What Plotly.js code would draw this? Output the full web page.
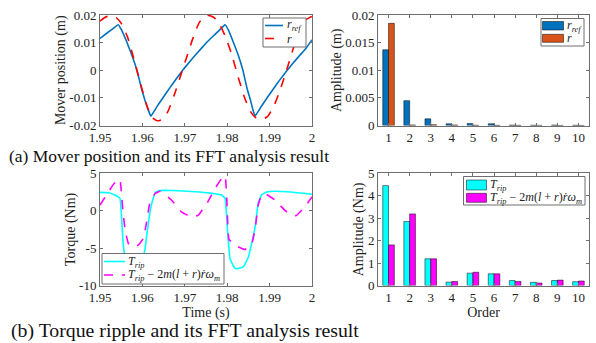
<!DOCTYPE html>
<html><head><meta charset="utf-8">
<script src="https://cdn.plot.ly/plotly-3.0.1.min.js"></script>
<style>html,body{margin:0;padding:0;background:#fff}</style>
</head><body><div id="chart" style="width:596px;height:343px"></div>
<script>
// (a) mover position, time series
const tRef = [1.950,1.9515,1.953,1.9543,1.9551,1.9563,1.9575,1.9587,1.9598,1.9606,1.9614,1.9620,1.9635,1.965,1.9665,1.968,1.9695,1.971,1.9725,1.974,1.9755,1.977,1.9785,1.9795,1.9803,1.9814,1.9826,1.9837,1.9847,1.9855,1.9861,1.9866,1.988,1.9895,1.991,1.9925,1.994,1.9955,1.997,1.9985,2.000];
const rRef = [0.0115,0.0133,0.0150,0.0165,0.0145,0.0103,0.0055,0.0000,-0.0067,-0.0109,-0.0145,-0.0166,-0.0130,-0.0096,-0.0063,-0.0031,0.0000,0.0028,0.0055,0.0081,0.0106,0.0128,0.0150,0.0165,0.0145,0.0103,0.0055,0.0000,-0.0067,-0.0109,-0.0145,-0.0166,-0.0132,-0.0098,-0.0065,-0.0033,-0.0003,0.0025,0.0052,0.0078,0.0110];
const tR = [1.950,1.9512,1.9524,1.9537,1.955,1.9565,1.958,1.9595,1.961,1.9622,1.9635,1.9648,1.966,1.9675,1.969,1.9705,1.972,1.9735,1.9752,1.9768,1.978,1.9795,1.981,1.9825,1.984,1.9855,1.9868,1.9881,1.9895,1.991,1.9925,1.994,1.9955,1.997,1.9985,2.000];
const rR = [0.0178,0.0192,0.0197,0.0192,0.0170,0.0120,0.0040,-0.0045,-0.0125,-0.0170,-0.0183,-0.0177,-0.0150,-0.0090,-0.0020,0.0050,0.0120,0.0175,0.0199,0.0192,0.0172,0.0125,0.0060,-0.0020,-0.0095,-0.0150,-0.0172,-0.0178,-0.0168,-0.0130,-0.0070,0.0000,0.0075,0.0140,0.0182,0.0195];
// (a) FFT
const orders = [1,2,3,4,5,6,7,8,9,10];
const ampRref = [0.0137,0.0045,0.0012,0.0003,0.00035,0.0003,0.00008,0.00005,0.00008,0.00005];
const ampR = [0.0185,0.0001,0.00015,0.0001,0.00005,0.00003,0.00003,0.00002,0.00002,0.00002];
// (b) torque ripple, time series
const tTrip = [1.950,1.952,1.9535,1.9547,1.9551,1.9555,1.956,1.957,1.958,1.959,1.960,1.9606,1.9612,1.962,1.963,1.9641,1.967,1.9724,1.976,1.9787,1.9795,1.9801,1.9807,1.9817,1.9823,1.9838,1.985,1.9856,1.9866,1.9873,1.9881,1.9893,1.9912,1.995,2.000];
const Trip = [2.45,2.40,2.09,1.64,-1.0,-4.6,-6.5,-7.4,-7.6,-7.3,-6.4,-5.2,-2.5,0.5,2.4,2.68,2.70,2.54,2.35,2.09,1.64,-2.9,-6.5,-7.6,-7.75,-7.5,-6.2,-4.8,-2.1,1.0,2.1,2.5,2.6,2.5,2.2];
const tTcomp = [1.950,1.9519,1.9535,1.9547,1.9551,1.9555,1.956,1.9567,1.9579,1.959,1.9602,1.961,1.9618,1.963,1.9642,1.9669,1.9693,1.9716,1.9732,1.9752,1.9771,1.9787,1.9795,1.9799,1.9804,1.9818,1.9842,1.9858,1.9866,1.9873,1.9881,1.9889,1.9913,1.9936,1.9952,1.9963,1.9983,2.000];
const Tcomp = [0.75,2.45,3.77,4.2,2.0,-0.6,-2.8,-4.4,-4.85,-4.6,-3.7,-1.5,1.2,2.3,2.6,1.4,-0.2,-0.85,-0.6,0.95,2.95,4.3,4.66,1.6,-3.8,-4.6,-5.2,-4.4,-2.4,0.75,2.1,2.3,1.4,0.05,-0.6,-0.65,0.5,1.85];
// (b) FFT
const ampTrip = [4.45,2.85,1.19,0.15,0.55,0.52,0.22,0.14,0.22,0.17];
const ampTcomp = [1.81,3.19,1.19,0.18,0.59,0.52,0.18,0.11,0.24,0.20];
// tick labels and names
const timeTicks = [1.95,1.96,1.97,1.98,1.99,2];
const timeTickText = ['1.95','1.96','1.97','1.98','1.99','2'];
const posTicks = [-0.02,-0.01,0,0.01,0.02];
const posTickText = ['-0.02','-0.01','0','0.01','0.02'];
const ampTicks = [0,0.005,0.01,0.015,0.02];
const ampTickText = ['0','0.005','0.01','0.015','0.02'];
const torqTicks = [-10,-5,0,5];
const torqTickText = ['-10','-5','0','5'];
const ampNmTicks = [0,1,2,3,4,5];
const ampNmTickText = ['0','1','2','3','4','5'];
const nameRref = '<i>r</i><sub><i>ref</i></sub>';
const nameR = '<i>r</i>';
const nameTrip = '<i>T</i><sub><i>rip</i></sub>';
const nameTcomp = '<i>T</i><sub><i>rip</i></sub> − 2<i>m</i>(<i>l</i> + <i>r</i>)<i>ṙω</i><sub><i>m</i></sub>';
const captions = ['(a) Mover position and its FFT analysis result','(b) Torque ripple and its FFT analysis result'];

const FONT = '"Liberation Serif", "Times New Roman", serif';
const lc = '#6e6e6e';
const cBlue='#0072BD', cRed='#FF0000', cOrange='#D95319', cCyan='#00FFFF', cMag='#FF00FF';
function ax(extra){
  return Object.assign({showline:true, linecolor:lc, linewidth:1, mirror:'ticks', ticks:'inside', ticklen:3, tickcolor:lc,
    showgrid:false, zeroline:false, tickfont:{family:FONT,size:13,color:'#222'}, fixedrange:true}, extra);
}
const traces = [
  {x:tRef,y:rRef,type:'scatter',mode:'lines',name:nameRref,line:{color:cBlue,width:1.6,shape:'spline',smoothing:0.3},xaxis:'x',yaxis:'y'},
  {x:tR,y:rR,type:'scatter',mode:'lines',name:nameR,line:{color:cRed,width:1.6,dash:'dash',shape:'spline',smoothing:0.5},xaxis:'x',yaxis:'y'},
  {x:orders,y:ampRref,type:'bar',name:nameRref,marker:{color:cBlue,line:{color:'#000',width:0.5}},xaxis:'x2',yaxis:'y2'},
  {x:orders,y:ampR,type:'bar',name:nameR,marker:{color:cOrange,line:{color:'#000',width:0.5}},xaxis:'x2',yaxis:'y2'},
  {x:tTrip,y:Trip,type:'scatter',mode:'lines',name:nameTrip,line:{color:cCyan,width:1.6,shape:'spline',smoothing:0.3},xaxis:'x3',yaxis:'y3'},
  {x:tTcomp,y:Tcomp,type:'scatter',mode:'lines',name:nameTcomp,line:{color:cMag,width:1.6,dash:'dash',shape:'spline',smoothing:0.3},xaxis:'x3',yaxis:'y3'},
  {x:orders,y:ampTrip,type:'bar',name:nameTrip,marker:{color:cCyan,line:{color:'#000',width:0.5}},xaxis:'x4',yaxis:'y4'},
  {x:orders,y:ampTcomp,type:'bar',name:nameTcomp,marker:{color:cMag,line:{color:'#000',width:0.5}},xaxis:'x4',yaxis:'y4'}
];
const W=596,H=343;
const X = p=>p/W, Y = p=>1-p/H;
const dx = (a,b)=>[X(a),X(b)];
const dy = (top,bot)=>[Y(bot),Y(top)];
const titleFont = {family:FONT,size:14,color:'#222'};
const legFont = {family:FONT,size:12,color:'#222'};

// MATLAB-style legend boxes (drawn as shapes + text)
const shapes = [], annotations = [];
function legendBox(x0,y0,x1,y1){
  shapes.push({type:'rect',xref:'paper',yref:'paper',x0:X(x0),x1:X(x1),y0:Y(y1),y1:Y(y0),fillcolor:'#fff',line:{color:lc,width:1},layer:'above'});
}
function legendLine(x0,x1,y,color,dash,label,tx){
  shapes.push({type:'line',xref:'paper',yref:'paper',x0:X(x0),x1:X(x1),y0:Y(y),y1:Y(y),line:{color:color,width:1.6,dash:dash},layer:'above'});
  annotations.push({text:label,xref:'paper',yref:'paper',x:X(tx),y:Y(y),xanchor:'left',yanchor:'middle',showarrow:false,font:legFont});
}
function legendPatch(x0,x1,yt,yb,color,label,tx){
  shapes.push({type:'rect',xref:'paper',yref:'paper',x0:X(x0),x1:X(x1),y0:Y(yb),y1:Y(yt),fillcolor:color,line:{color:'#000',width:0.5},layer:'above'});
  annotations.push({text:label,xref:'paper',yref:'paper',x:X(tx),y:Y((yt+yb)/2),xanchor:'left',yanchor:'middle',showarrow:false,font:legFont});
}
legendBox(263,18,306,47);
legendLine(265,283,25.5,cBlue,'solid',traces[0].name,285);
legendLine(265,283,38.5,cRed,'dash',traces[1].name,285);
legendBox(541,18.5,584,46);
legendPatch(542.5,563.5,21.5,30,cBlue,traces[2].name,564.5);
legendPatch(542.5,563.5,34.3,42.3,cOrange,traces[3].name,564.5);
legendBox(102,253.5,224,284);
legendLine(104,125,261.5,cCyan,'solid',traces[4].name,126);
legendLine(104,125,275,cMag,'dash',traces[5].name,126);
legendBox(463.5,176.5,585,205);
legendPatch(466.5,486.5,180,190,cCyan,traces[6].name,488);
legendPatch(466.5,486.5,193.3,202.3,cMag,traces[7].name,488);
annotations.push(
  {text:captions[0],xref:'paper',yref:'paper',x:X(7),y:Y(156),xanchor:'left',yanchor:'middle',showarrow:false,font:{family:FONT,size:17.5,color:'#111'}},
  {text:captions[1],xref:'paper',yref:'paper',x:X(9),y:Y(330.5),xanchor:'left',yanchor:'middle',showarrow:false,font:{family:FONT,size:19.8,color:'#111'}}
);

const layout = {
  width:W,height:H,margin:{l:0,r:0,t:0,b:0},paper_bgcolor:'#fff',plot_bgcolor:'#fff',
  showlegend:false, barmode:'group', bargap:0.45, bargroupgap:0,
  xaxis:ax({domain:dx(100,312),range:[1.95,2],tickvals:timeTicks,ticktext:timeTickText,anchor:'y'}),
  yaxis:ax({domain:dy(15,125.5),range:[-0.02,0.02],tickvals:posTicks,ticktext:posTickText,anchor:'x',title:{text:'Mover position (m)',font:titleFont,standoff:0}}),
  xaxis2:ax({domain:dx(378,589),range:[0.5,10.5],tickvals:orders,anchor:'y2'}),
  yaxis2:ax({domain:dy(15,125.5),range:[0,0.02],tickvals:ampTicks,ticktext:ampTickText,anchor:'x2',title:{text:'Amplitude (m)',font:titleFont,standoff:0}}),
  xaxis3:ax({domain:dx(100,312),range:[1.95,2],tickvals:timeTicks,ticktext:timeTickText,anchor:'y3',title:{text:'Time (s)',font:titleFont,standoff:1}}),
  yaxis3:ax({domain:dy(173.3,285.5),range:[-10,5],tickvals:torqTicks,ticktext:torqTickText,anchor:'x3',title:{text:'Torque (Nm)',font:titleFont,standoff:0}}),
  xaxis4:ax({domain:dx(378,589),range:[0.5,10.5],tickvals:orders,anchor:'y4',title:{text:'Order',font:titleFont,standoff:1}}),
  yaxis4:ax({domain:dy(173.3,285.5),range:[0,5],tickvals:ampNmTicks,ticktext:ampNmTickText,anchor:'x4',title:{text:'Amplitude (Nm)',font:titleFont,standoff:0}}),
  shapes:shapes, annotations:annotations
};
Plotly.newPlot('chart',traces,layout,{displayModeBar:false,staticPlot:true});
</script></body></html>
